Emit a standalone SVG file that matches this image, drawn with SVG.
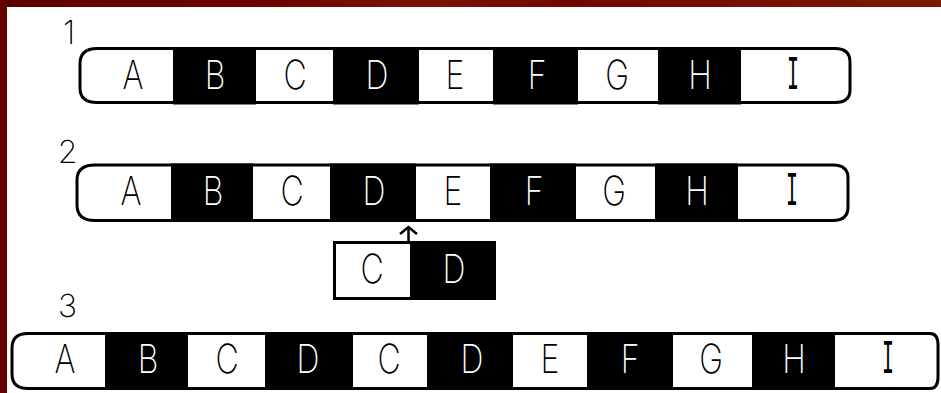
<svg xmlns="http://www.w3.org/2000/svg" width="941" height="393" viewBox="0 0 941 393">
<defs>
<linearGradient id="red" x1="0" y1="0" x2="1" y2="0">
<stop offset="0" stop-color="#5e0000"/>
<stop offset="0.3" stop-color="#6e0400"/>
<stop offset="0.45" stop-color="#7a1400"/>
<stop offset="0.6" stop-color="#720600"/>
<stop offset="1" stop-color="#7a1a00"/>
</linearGradient>
</defs>
<style>
.bar{fill:#fff;stroke:#000;stroke-width:3}
.blk{fill:#000}
.t{font-family:Inter,"DejaVu Sans","Liberation Sans",sans-serif;font-size:40px;font-weight:200;text-anchor:middle}
.m{font-family:"Liberation Mono","DejaVu Sans Mono",monospace;font-size:40px;font-weight:normal;text-anchor:middle}
.n{font-family:Inter,"DejaVu Sans","Liberation Sans",sans-serif;font-size:32px;font-weight:200;text-anchor:middle;fill:#000}
.k{fill:#000}
.w{fill:#fff}
.arr{fill:none;stroke:#000;stroke-width:2.5}
</style>
<rect width="941" height="393" fill="#fff"/>
<rect x="0" y="0" width="941" height="7" fill="url(#red)"/>
<rect x="0" y="0" width="7" height="393" fill="#640000"/>

<!-- Row 1 -->
<g id="row1">
<text class="n" x="69" y="44">1</text>
<path class="bar" d="M97,48.5 H835 Q850,48.5 850,62 V90 Q850,102.5 835,102.5 H97 Q80,102.5 80,88 V64 Q80,48.5 97,48.5 Z"/>
<g id="r1A"><text class="t k" transform="translate(133,89) scale(0.8,1)">A</text></g>
<g id="r1B"><rect class="blk" x="173" y="47" width="83" height="57.5"/><text class="t w" transform="translate(215,89) scale(0.8,1)">B</text></g>
<g id="r1C"><text class="t k" transform="translate(295,89) scale(0.8,1)">C</text></g>
<g id="r1D"><rect class="blk" x="333" y="47" width="86" height="57.5"/><text class="t w" transform="translate(377,89) scale(0.8,1)">D</text></g>
<g id="r1E"><text class="t k" transform="translate(455,89) scale(0.8,1)">E</text></g>
<g id="r1F"><rect class="blk" x="493" y="47" width="85" height="57.5"/><text class="t w" transform="translate(537,89) scale(0.8,1)">F</text></g>
<g id="r1G"><text class="t k" transform="translate(617,89) scale(0.8,1)">G</text></g>
<g id="r1H"><rect class="blk" x="658" y="47" width="83" height="57.5"/><text class="t w" transform="translate(700,89) scale(0.8,1)">H</text></g>
<g id="r1I"><text class="m k" transform="translate(793,89) scale(0.5,1.2)">I</text></g>
</g>

<!-- Row 2 -->
<g id="row2">
<text class="n" x="67.5" y="163">2</text>
<path class="bar" d="M95,165 H833 Q848,165 848,178 V207 Q848,220.5 833,220.5 H95 Q77,220.5 77,205 V180 Q77,165 95,165 Z"/>
<g id="r2A"><text class="t k" transform="translate(131,205) scale(0.8,1)">A</text></g>
<g id="r2B"><rect class="blk" x="171" y="163.5" width="82" height="58.5"/><text class="t w" transform="translate(213,205) scale(0.8,1)">B</text></g>
<g id="r2C"><text class="t k" transform="translate(292,205) scale(0.8,1)">C</text></g>
<g id="r2D"><rect class="blk" x="330" y="163.5" width="86" height="58.5"/><text class="t w" transform="translate(374,205) scale(0.8,1)">D</text></g>
<g id="r2E"><text class="t k" transform="translate(453,205) scale(0.8,1)">E</text></g>
<g id="r2F"><rect class="blk" x="490" y="163.5" width="86" height="58.5"/><text class="t w" transform="translate(534,205) scale(0.8,1)">F</text></g>
<g id="r2G"><text class="t k" transform="translate(614,205) scale(0.8,1)">G</text></g>
<g id="r2H"><rect class="blk" x="655" y="163.5" width="83" height="58.5"/><text class="t w" transform="translate(697,205) scale(0.8,1)">H</text></g>
<g id="r2I"><text class="m k" transform="translate(792,205) scale(0.5,1.2)">I</text></g>
</g>

<!-- Inserted block -->
<g id="insert">
<rect class="bar" x="334.5" y="242.5" width="160" height="56"/>
<g id="insC"><text class="t k" transform="translate(372,283) scale(0.8,1)">C</text></g>
<g id="insD"><rect class="blk" x="410" y="241" width="86" height="59"/><text class="t w" transform="translate(454,283) scale(0.8,1)">D</text></g>
</g>

<g id="connectors">
<line class="arr" x1="408.5" y1="242" x2="408.5" y2="227"/>
<polyline class="arr" points="400,234 408.5,227 417,234"/>
</g>

<!-- Row 3 -->
<g id="row3">
<text class="n" x="67.5" y="317">3</text>
<path class="bar" d="M28,333.5 H930 Q938,333.5 938,345 V377 Q938,388.5 930,388.5 H28 Q12,388.5 12,374 V348 Q12,333.5 28,333.5 Z"/>
<g id="r3A"><text class="t k" transform="translate(65,373) scale(0.8,1)">A</text></g>
<g id="r3B"><rect class="blk" x="105" y="332" width="83" height="58"/><text class="t w" transform="translate(148,373) scale(0.8,1)">B</text></g>
<g id="r3C"><text class="t k" transform="translate(227,373) scale(0.8,1)">C</text></g>
<g id="r3D"><rect class="blk" x="265" y="332" width="88" height="58"/><text class="t w" transform="translate(308,373) scale(0.8,1)">D</text></g>
<g id="r3C2"><text class="t k" transform="translate(389,373) scale(0.8,1)">C</text></g>
<g id="r3D2"><rect class="blk" x="427" y="332" width="86" height="58"/><text class="t w" transform="translate(472,373) scale(0.8,1)">D</text></g>
<g id="r3E"><text class="t k" transform="translate(550,373) scale(0.8,1)">E</text></g>
<g id="r3F"><rect class="blk" x="587" y="332" width="86" height="58"/><text class="t w" transform="translate(630,373) scale(0.8,1)">F</text></g>
<g id="r3G"><text class="t k" transform="translate(711,373) scale(0.8,1)">G</text></g>
<g id="r3H"><rect class="blk" x="752" y="332" width="83" height="58"/><text class="t w" transform="translate(794,373) scale(0.8,1)">H</text></g>
<g id="r3I"><text class="m k" transform="translate(888,373) scale(0.5,1.2)">I</text></g>
</g>
</svg>
